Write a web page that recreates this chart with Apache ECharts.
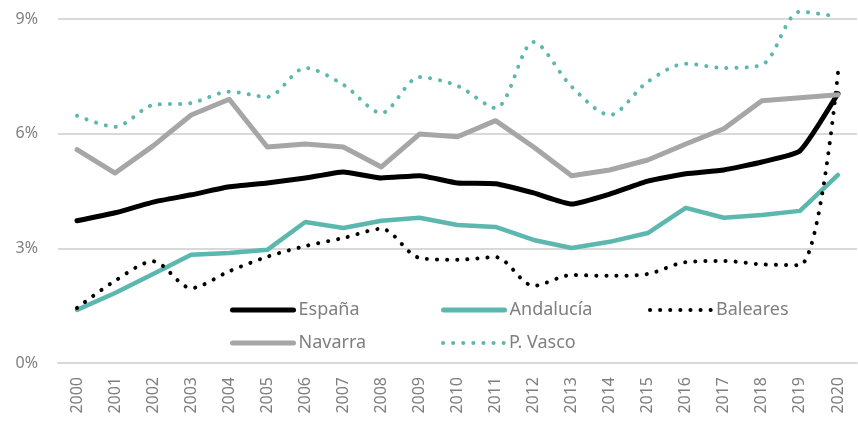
<!DOCTYPE html>
<html><head><meta charset="utf-8">
<script src="https://cdn.jsdelivr.net/npm/echarts@6/dist/echarts.min.js"></script>
<style>html,body{margin:0;padding:0;background:#fff}#c{width:858px;height:427px}</style>
</head><body><div id="c"></div>
<script>
const years = ['2000','2001','2002','2003','2004','2005','2006','2007','2008','2009','2010','2011','2012','2013','2014','2015','2016','2017','2018','2019','2020'];
const espana    = [3.72,3.93,4.21,4.40,4.61,4.71,4.84,5.00,4.84,4.90,4.71,4.69,4.45,4.16,4.42,4.76,4.95,5.05,5.26,5.55,7.05];
const andalucia = [1.39,1.83,2.33,2.83,2.88,2.96,3.69,3.53,3.72,3.80,3.61,3.56,3.22,3.01,3.17,3.40,4.06,3.80,3.87,3.98,4.92];
const baleares  = [1.44,2.15,2.66,1.96,2.40,2.78,3.06,3.27,3.51,2.75,2.70,2.77,2.02,2.30,2.28,2.33,2.64,2.67,2.58,2.56,7.60];
const navarra   = [5.58,4.97,5.68,6.49,6.90,5.65,5.73,5.65,5.13,5.99,5.92,6.34,5.65,4.90,5.05,5.31,5.73,6.13,6.86,6.94,7.02];
const pvasco    = [6.47,6.18,6.75,6.80,7.10,6.96,7.72,7.28,6.54,7.48,7.25,6.67,8.40,7.23,6.49,7.36,7.83,7.72,7.80,9.19,9.06];
const yTicks = [0,3,6,9];

const FONT = '"Noto Sans"';
const GREY_TXT = '#7f7f7f';
const TEAL = '#5cb8ae';
const GREY = '#a6a6a6';
const DOTS = [0.1, 10];
const NOSYM = {color: 'rgba(0,0,0,0)', borderColor: 'rgba(0,0,0,0)', borderWidth: 0};

const chart = echarts.init(document.getElementById('c'), null, {renderer:'canvas'});

function leg(name, left, top, color, type) {
  return {
    data: [name], left: left, top: top, orient: 'horizontal',
    itemWidth: 61, itemHeight: 12, itemGap: 0,
    textStyle: {color: GREY_TXT, fontSize: 18, fontFamily: FONT},
    itemStyle: NOSYM,
    lineStyle: {width: type === 'solid' ? 5 : 4, color: color, type: type === 'solid' ? 'solid' : DOTS, cap: 'round'},
    selectedMode: false
  };
}

const option = {
  backgroundColor: '#fff',
  animation: false,
  grid: {left: 58, right: 1, top: 19, bottom: 64},
  legend: [
    leg('España', 225, 296, '#000', 'solid'),
    leg('Andalucía', 436, 296, TEAL, 'solid'),
    leg('Baleares', 643, 296, '#000', 'dot'),
    leg('Navarra', 225, 329, GREY, 'solid'),
    leg('P. Vasco', 436, 329, TEAL, 'dot')
  ],
  xAxis: {
    type: 'category', data: years, boundaryGap: true,
    axisLine: {show: true, lineStyle: {color: '#d9d9d9', width: 2}},
    axisTick: {show: false},
    axisLabel: {rotate: 90, color: GREY_TXT, fontSize: 16, fontFamily: FONT, margin: 14, interval: 0}
  },
  yAxis: {
    type: 'value', min: yTicks[0], max: yTicks[yTicks.length-1], interval: 3,
    axisLine: {show: false}, axisTick: {show: false},
    axisLabel: {formatter: '{value}%', color: GREY_TXT, fontSize: 16, fontFamily: FONT, margin: 20},
    splitLine: {lineStyle: {color: '#d9d9d9', width: 2}}
  },
  series: [
    {name: 'España', type: 'line', data: espana, symbol: 'none', smooth: 0.15, clip: false,
     lineStyle: {color: '#000', width: 5, cap: 'round', join: 'round'}, itemStyle: {color: '#000'}},
    {name: 'Andalucía', type: 'line', data: andalucia, symbol: 'none', clip: false,
     lineStyle: {color: TEAL, width: 4.5, cap: 'round', join: 'round'}, itemStyle: {color: TEAL}},
    {name: 'Baleares', type: 'line', data: baleares, symbol: 'none', smooth: 0.3, clip: false,
     lineStyle: {color: '#000', width: 4, type: DOTS, cap: 'round'}, itemStyle: {color: '#000'}},
    {name: 'Navarra', type: 'line', data: navarra, symbol: 'none', clip: false,
     lineStyle: {color: GREY, width: 5, cap: 'round', join: 'round'}, itemStyle: {color: GREY}},
    {name: 'P. Vasco', type: 'line', data: pvasco, symbol: 'none', smooth: 0.3, clip: false,
     lineStyle: {color: TEAL, width: 4, type: DOTS, cap: 'round'}, itemStyle: {color: TEAL}}
  ]
};
chart.setOption(option);
</script>
</body></html>
